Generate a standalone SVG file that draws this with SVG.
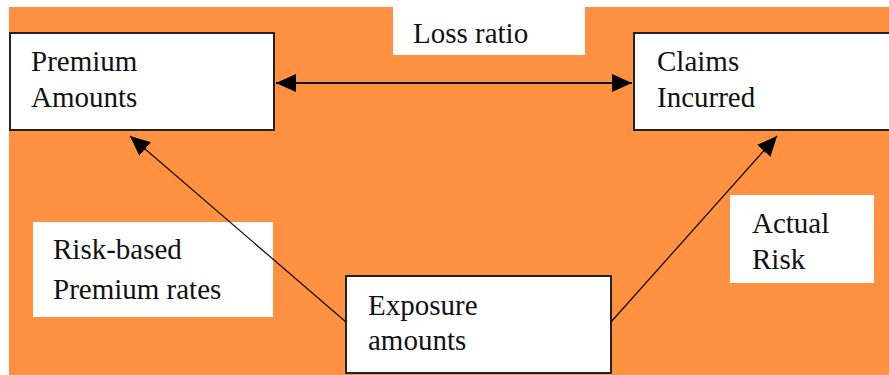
<svg xmlns="http://www.w3.org/2000/svg" width="889" height="375" viewBox="0 0 889 375" font-family="'Liberation Serif', 'Times New Roman', serif">
<style>
.bg{fill:#FF9140}
.box{fill:#fff;stroke:#222;stroke-width:2}
.lbl{fill:#fff;stroke:none}
text{font-family:'Liberation Serif','Times New Roman',serif;font-size:29px;fill:#111}
.conn{stroke:#111;fill:none}
</style>
<defs>
<marker id="ah" markerUnits="userSpaceOnUse" markerWidth="22" markerHeight="20" viewBox="0 -10 22 20" refX="20" refY="0" orient="auto-start-reverse">
<path d="M0,-9 L20,0 L0,9 z" fill="#000"/>
</marker>
</defs>
<rect width="889" height="375" fill="#fff"/>
<rect class="bg" x="9" y="7" width="880" height="368"/>
<g id="premium">
<rect class="box" x="10" y="33" width="264" height="97"/>
<text x="31" y="71" font-family="Liberation Serif, serif">Premium</text>
<text x="31" y="107" font-family="Liberation Serif, serif">Amounts</text>
</g>
<g id="lossratio">
<rect class="lbl" x="393" y="7" width="192" height="48"/>
<text x="413" y="43" font-family="Liberation Serif, serif">Loss ratio</text>
</g>
<g id="claims">
<rect class="box" x="634" y="33" width="256" height="97"/>
<text x="657" y="71" font-family="Liberation Serif, serif">Claims</text>
<text x="657" y="107" font-family="Liberation Serif, serif">Incurred</text>
</g>
<g id="riskbased">
<rect class="lbl" x="33" y="222" width="240" height="95"/>
<text x="53" y="259" font-family="Liberation Serif, serif">Risk-based</text>
<text x="53" y="299" font-family="Liberation Serif, serif">Premium rates</text>
</g>
<g id="actualrisk">
<rect class="lbl" x="730" y="195" width="144" height="88"/>
<text x="752" y="233" font-family="Liberation Serif, serif">Actual</text>
<text x="752" y="269" font-family="Liberation Serif, serif">Risk</text>
</g>
<g id="exposure">
<rect class="box" x="346" y="276" width="265" height="97"/>
<text x="368" y="315" font-family="Liberation Serif, serif">Exposure</text>
<text x="368" y="350" font-family="Liberation Serif, serif">amounts</text>
</g>
<g id="connectors">
<line class="conn" x1="276" y1="83" x2="632" y2="83" stroke-width="2" marker-start="url(#ah)" marker-end="url(#ah)"/>
<line class="conn" x1="346" y1="322" x2="130" y2="136" stroke-width="1.3" marker-end="url(#ah)"/>
<line class="conn" x1="611" y1="322" x2="777" y2="136" stroke-width="1.3" marker-end="url(#ah)"/>
</g>
</svg>
